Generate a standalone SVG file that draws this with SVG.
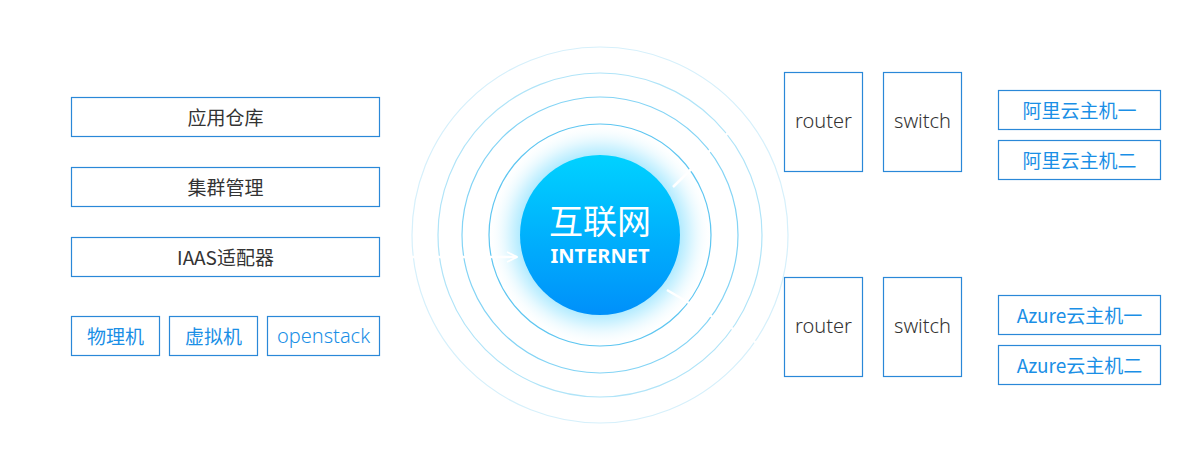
<svg xmlns="http://www.w3.org/2000/svg" width="1200" height="470" viewBox="0 0 1200 470">
<defs>
<style>
.box{fill:#fff;stroke:#2a88d8;stroke-width:1.2}
.t{font-family:"Noto Sans CJK SC","Noto Sans",sans-serif;font-size:19px;fill:#333;text-anchor:middle;dominant-baseline:central}
.en{font-family:"Noto Sans","Liberation Sans",sans-serif;font-size:20px;fill:#333;text-anchor:middle;dominant-baseline:central;font-weight:300}
.b{fill:#1a8fe6}
.ring{fill:none}
.wl{stroke:#fff;stroke-width:2.5;fill:none}
</style>
<radialGradient id="glow" cx="600" cy="235" r="112" gradientUnits="userSpaceOnUse">
<stop offset="0.68" stop-color="#a6e8ff"/>
<stop offset="0.82" stop-color="#dcf6ff"/>
<stop offset="1" stop-color="#fff" stop-opacity="0"/>
</radialGradient>
<linearGradient id="core" x1="0" y1="0" x2="0" y2="1">
<stop offset="0" stop-color="#00d2ff"/>
<stop offset="1" stop-color="#0090fa"/>
</linearGradient>
<marker id="ah" viewBox="0 0 10 10" refX="9" refY="5" markerWidth="5" markerHeight="5" orient="auto" markerUnits="strokeWidth">
<path d="M1 1 L9 5 L1 9" fill="none" stroke="#fff" stroke-width="1.5"/>
</marker>
</defs>
<rect width="1200" height="470" fill="#fff"/>
<g id="internet">
<circle class="ring" cx="600" cy="235" r="188" stroke="#d6f0fb" stroke-width="1.2"/>
<circle class="ring" cx="600" cy="235" r="162" stroke="#b0e4f8" stroke-width="1.2"/>
<circle class="ring" cx="600" cy="235" r="138" stroke="#84d4f5" stroke-width="1.2"/>
<circle cx="600" cy="235" r="112" fill="url(#glow)"/>
<circle class="ring" cx="600" cy="235" r="111" stroke="#5ec6f1" stroke-width="1.2"/>
<circle cx="600" cy="235" r="80" fill="url(#core)"/>
<text x="600" y="219" font-family="Noto Sans CJK SC,sans-serif" font-size="34" fill="#fff" text-anchor="middle" dominant-baseline="central">互联网</text>
<text x="600" y="255" font-family="Noto Sans,Liberation Sans,sans-serif" font-size="20" font-weight="bold" fill="#fff" text-anchor="middle" dominant-baseline="central">INTERNET</text>
</g>
<g id="connectors">
<line class="wl" x1="408" y1="257" x2="517" y2="257" marker-end="url(#ah)"/>
<line class="wl" x1="673" y1="187" x2="738" y2="123"/>
<line class="wl" x1="667" y1="290" x2="762" y2="346"/>
</g>
<g id="app-repo"><rect class="box" x="71.5" y="97.5" width="308" height="39"/><text class="t" x="225.5" y="116">应用仓库</text></g>
<g id="cluster"><rect class="box" x="71.5" y="167.5" width="308" height="39"/><text class="t" x="225.5" y="186">集群管理</text></g>
<g id="iaas"><rect class="box" x="71.5" y="237.5" width="308" height="39"/><text class="t" x="225.5" y="256">IAAS适配器</text></g>
<g id="physical"><rect class="box" x="71.5" y="316.5" width="88" height="39"/><text class="t b" x="115.5" y="335">物理机</text></g>
<g id="virtual"><rect class="box" x="169.5" y="316.5" width="88" height="39"/><text class="t b" x="213.5" y="335">虚拟机</text></g>
<g id="openstack"><rect class="box" x="267.5" y="316.5" width="112" height="39"/><text class="en b" x="323.5" y="335">openstack</text></g>
<g id="router1"><rect class="box" x="784.5" y="72.5" width="78" height="99"/><text class="en" x="823.5" y="120">router</text></g>
<g id="switch1"><rect class="box" x="883.5" y="72.5" width="78" height="99"/><text class="en" x="922.5" y="120">switch</text></g>
<g id="ali1"><rect class="box" x="998.5" y="90.5" width="162" height="39"/><text class="t b" x="1079.5" y="109">阿里云主机一</text></g>
<g id="ali2"><rect class="box" x="998.5" y="140.5" width="162" height="39"/><text class="t b" x="1079.5" y="159">阿里云主机二</text></g>
<g id="router2"><rect class="box" x="784.5" y="277.5" width="78" height="99"/><text class="en" x="823.5" y="325">router</text></g>
<g id="switch2"><rect class="box" x="883.5" y="277.5" width="78" height="99"/><text class="en" x="922.5" y="325">switch</text></g>
<g id="azure1"><rect class="box" x="998.5" y="295.5" width="162" height="39"/><text class="t b" x="1079.5" y="314">Azure云主机一</text></g>
<g id="azure2"><rect class="box" x="998.5" y="345.5" width="162" height="39"/><text class="t b" x="1079.5" y="364">Azure云主机二</text></g>
</svg>
